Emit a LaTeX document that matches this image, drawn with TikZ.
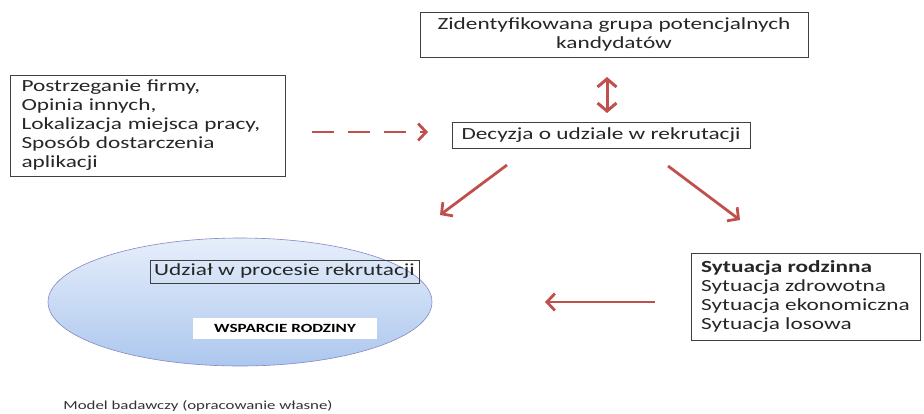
\documentclass[tikz,border=0pt]{standalone}
\usepackage{fontspec}
\setmainfont{Carlito}[FakeStretch=1.37]
\usetikzlibrary{arrows.meta,shapes.geometric}
\definecolor{arrred}{HTML}{C0504D}
\definecolor{boxline}{HTML}{404040}
\hyphenpenalty=10000
\begin{document}
\begin{tikzpicture}[x=1pt,y=-1pt,
  box/.style={draw=boxline,line width=0.9pt,inner sep=0pt},
  body/.style={font=\fontsize{17}{19}\selectfont,text=black!85},
  arr/.style={draw=arrred,line width=2.8pt,-{Straight Barb[length=8pt,width=17pt,line width=2.8pt]}},
  darr/.style={draw=arrred,line width=3pt,{Straight Barb[length=8pt,width=19pt,line width=3pt]}-{Straight Barb[length=8pt,width=19pt,line width=3pt]}}]
\useasboundingbox (0,0) rectangle (924,413);
% ellipse
\node[ellipse,minimum width=384,minimum height=128,draw=blue!35!gray!70,line width=0.6pt,
  top color={rgb,255:red,230;green,238;blue,251},bottom color={rgb,255:red,172;green,199;blue,238}] (ell) at (240,302) {};
% boxes
\node[box,body,minimum width=388,minimum height=45,align=center] (top) at (614,34.5)
  {Zidentyfikowana grupa potencjalnych\\kandydatów};
\node[box,body,minimum width=275,minimum height=101,text width=252,align=left] (left) at (147.5,125.5)
  {Postrzeganie firmy,\\Opinia innych,\\Lokalizacja miejsca pracy,\\Sposób dostarczenia\\aplikacji};
\node[box,body,minimum width=298,minimum height=26,align=center] (dec) at (601,135)
  {Decyzja o udziale w rekrutacji};
\node[box,body,minimum width=229,minimum height=87,align=left] (right) at (805.5,296.5)
  {\textbf{Sytuacja rodzinna}\\Sytuacja zdrowotna\\Sytuacja ekonomiczna\\Sytuacja losowa};
\node[box,body,minimum width=269,minimum height=23,align=center] (udz) at (284.5,271.5)
  {Udział w procesie rekrutacji};
\node[fill=white,minimum width=184,minimum height=21,inner sep=0pt,
  font=\fontsize{12.5}{13}\selectfont\bfseries] (wsp) at (285,328.5) {WSPARCIE RODZINY};
\node[font=\fontsize{12.3}{13}\selectfont,text=black!80] (cap) at (198,406) {Model badawczy (opracowanie własne)};
% connector end points
\coordinate (d1s) at (607,113);
\coordinate (d1e) at (607,77);
\coordinate (l1s) at (507,165);
\coordinate (l1e) at (440,215);
\coordinate (r1s) at (668,166);
\coordinate (r1e) at (740,220);
\coordinate (h1s) at (655,302);
\coordinate (h1e) at (545,302);
\coordinate (ds) at (312,132);
\coordinate (de) at (428,132);
% connectors
\draw[darr] (d1s) -- (d1e);
\draw[arr,dash pattern=on 22pt off 14pt] (ds) -- (de);
\draw[arr] (l1s) -- (l1e);
\draw[arr] (r1s) -- (r1e);
\draw[arr] (h1s) -- (h1e);
\end{tikzpicture}
\end{document}
